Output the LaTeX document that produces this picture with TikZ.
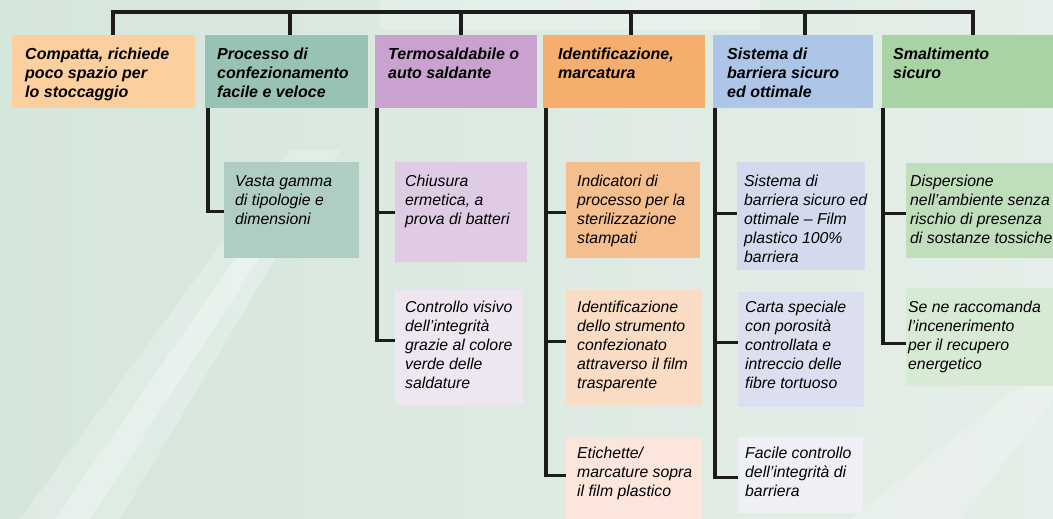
\documentclass[tikz,border=0pt]{standalone}
\usepackage{fontspec}
\setmainfont{Liberation Sans}
\usetikzlibrary{calc}
\definecolor{bgA}{HTML}{D5E6DC}
\definecolor{bgB}{HTML}{E5EEE8}
\definecolor{lineC}{HTML}{1C1C1C}
\definecolor{cA}{HTML}{FBCF9E}
\definecolor{cB}{HTML}{98C2B5}
\definecolor{cC}{HTML}{C9A2CF}
\definecolor{cD}{HTML}{F6AE6E}
\definecolor{cE}{HTML}{ADC5E7}
\definecolor{cF}{HTML}{A8D3A5}
\definecolor{sBa}{HTML}{B0CDC3}
\definecolor{sCa}{HTML}{DFCCE4}
\definecolor{sCb}{HTML}{EEE6F0}
\definecolor{sDa}{HTML}{F4BE8E}
\definecolor{sDb}{HTML}{F9DCC3}
\definecolor{sDc}{HTML}{FCE6DB}
\definecolor{sEa}{HTML}{D4DAEE}
\definecolor{sEb}{HTML}{DCDFEF}
\definecolor{sEc}{HTML}{EFF0F6}
\definecolor{sFa}{HTML}{C0DDBC}
\definecolor{sFb}{HTML}{D7EAD3}
\tikzset{
  boxbg/.style={rectangle, anchor=north west, inner sep=0pt, draw=none},
  toptext/.style={anchor=base west, inner sep=0pt, align=left,
    font=\fontsize{16}{19}\selectfont\bfseries\itshape},
  subtext/.style={anchor=base west, inner sep=0pt, align=left,
    font=\fontsize{15.8}{19}\selectfont\itshape},
  conn/.style={draw=lineC, line width=3.1pt}
}
\begin{document}
\begin{tikzpicture}[x=1pt, y=-1pt]
\useasboundingbox (0,0) rectangle (1053,519);
\clip (0,0) rectangle (1053,519);
% background
\shade[left color=bgA, right color=bgB] (0,0) rectangle (1053,519);
\fill[white, opacity=0.22] (20,519) -- (120,519) -- (340,150) -- (290,150) -- cycle;
\fill[white, opacity=0.28] (55,519) -- (90,519) -- (320,165) -- (300,165) -- cycle;
\fill[white, opacity=0.25] (380,0) rectangle (760,30);
\fill[white, opacity=0.22] (850,519) -- (960,519) -- (1053,400) -- (1053,360) -- cycle;

% top boxes
\node[boxbg, fill=cA, minimum width=183pt, minimum height=73pt] (t1) at (12,35) {};
\node[boxbg, fill=cB, minimum width=163pt, minimum height=73pt] (t2) at (205,35) {};
\node[boxbg, fill=cC, minimum width=162pt, minimum height=73pt] (t3) at (375,35) {};
\node[boxbg, fill=cD, minimum width=162pt, minimum height=73pt] (t4) at (543,35) {};
\node[boxbg, fill=cE, minimum width=160pt, minimum height=73pt] (t5) at (713,35) {};
\node[boxbg, fill=cF, minimum width=171pt, minimum height=73pt] (t6) at (882,35) {};

% (base anchor = baseline of the last line)
\node[toptext] (t1x) at (25,97) {Compatta, richiede\\poco spazio per\\lo stoccaggio};
\node[toptext] (t2x) at (217,97) {Processo di\\confezionamento\\facile e veloce};
\node[toptext] (t3x) at (388,78) {Termosaldabile o\\auto saldante};
\node[toptext] (t4x) at (558,78) {Identificazione,\\marcatura};
\node[toptext] (t5x) at (727,97) {Sistema di\\barriera sicuro\\ed ottimale};
\node[toptext] (t6x) at (893,78) {Smaltimento\\sicuro};

% sub boxes
\node[boxbg, fill=sBa, minimum width=135pt, minimum height=96pt] (s2a) at (224,162) {};
\node[boxbg, fill=sCa, minimum width=132pt, minimum height=100pt] (s3a) at (395,162) {};
\node[boxbg, fill=sCb, minimum width=128pt, minimum height=115pt] (s3b) at (395,290) {};
\node[boxbg, fill=sDa, minimum width=134pt, minimum height=96pt] (s4a) at (566,162) {};
\node[boxbg, fill=sDb, minimum width=136pt, minimum height=115pt] (s4b) at (566,290) {};
\node[boxbg, fill=sDc, minimum width=136pt, minimum height=82pt] (s4c) at (566,437) {};
\node[boxbg, fill=sEa, minimum width=128pt, minimum height=108pt] (s5a) at (737,162) {};
\node[boxbg, fill=sEb, minimum width=126pt, minimum height=115pt] (s5b) at (738,292) {};
\node[boxbg, fill=sEc, minimum width=125pt, minimum height=76pt] (s5c) at (738,437) {};
\node[boxbg, fill=sFa, minimum width=148pt, minimum height=95pt] (s6a) at (906,163) {};
\node[boxbg, fill=sFb, minimum width=147pt, minimum height=98pt] (s6b) at (906,288) {};

\node[subtext] (s2ax) at (235,224) {Vasta gamma\\di tipologie e\\dimensioni};
\node[subtext] (s3ax) at (405,224) {Chiusura\\ermetica, a\\prova di batteri};
\node[subtext] (s3bx) at (405,388) {Controllo visivo\\dell’integrità\\grazie al colore\\verde delle\\saldature};
\node[subtext] (s4ax) at (577,243) {Indicatori di\\processo per la\\sterilizzazione\\stampati};
\node[subtext] (s4bx) at (577,388) {Identificazione\\dello strumento\\confezionato\\attraverso il film\\trasparente};
\node[subtext] (s4cx) at (577,496) {Etichette/\\marcature sopra\\il film plastico};
\node[subtext] (s5ax) at (744,262) {Sistema di\\barriera sicuro ed\\ottimale – Film\\plastico 100\%\\barriera};
\node[subtext] (s5bx) at (745,388) {Carta speciale\\con porosità\\controllata e\\intreccio delle\\fibre tortuoso};
\node[subtext] (s5cx) at (745,496) {Facile controllo\\dell’integrità di\\barriera};
\node[subtext] (s6ax) at (910,243) {Dispersione\\nell’ambiente senza\\rischio di presenza\\di sostanze tossiche};
\node[subtext] (s6bx) at (908,369) {Se ne raccomanda\\l’incenerimento\\per il recupero\\energetico};

% top bus
\coordinate (b1) at (113,12);
\coordinate (b2) at (290,12);
\coordinate (b3) at (461,12);
\coordinate (b4) at (631,12);
\coordinate (b5) at (805,12);
\coordinate (b6) at (973,12);
\draw[conn] (t1.north -| b1) -- (b1) -- (b6) -- (t6.north -| b6);
\foreach \k in {2,3,4,5} { \draw[conn] (b\k) -- (t\k.north -| b\k); }

% branches (yshift in TeX sense: positive = upwards)
\draw[conn] ([xshift=3pt]t2.south west) |- ([yshift=-1pt]s2a.west);
\draw[conn] ([xshift=2pt]t3.south west) |- (s3a.west);
\draw[conn] ([xshift=2pt]t3.south west) |- ([yshift=7pt]s3b.west);
\draw[conn] ([xshift=3pt]t4.south west) |- ([yshift=-2pt]s4a.west);
\draw[conn] ([xshift=3pt]t4.south west) |- ([yshift=6pt]s4b.west);
\draw[conn] ([xshift=3pt]t4.south west) |- ([yshift=3pt]s4c.west);
\draw[conn] ([xshift=2pt]t5.south west) |- ([yshift=3pt]s5a.west);
\draw[conn] ([xshift=2pt]t5.south west) |- ([yshift=7pt]s5b.west);
\draw[conn] ([xshift=2pt]t5.south west) |- ([yshift=-2pt]s5c.west);
\draw[conn] ([xshift=1pt]t6.south west) |- ([yshift=-3pt]s6a.west);
\draw[conn] ([xshift=1pt]t6.south west) |- ([yshift=-6pt]s6b.west);
\end{tikzpicture}
\end{document}
